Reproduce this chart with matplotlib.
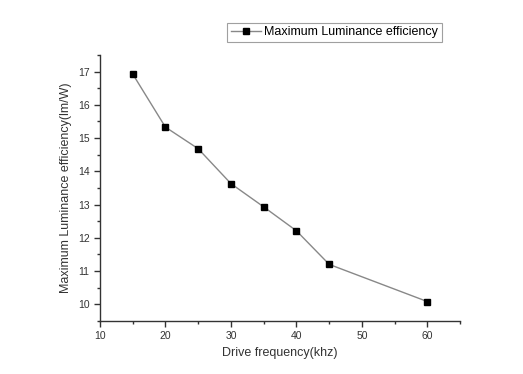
import matplotlib
matplotlib.use('Agg')
import matplotlib.pyplot as plt
from matplotlib.ticker import MultipleLocator

# data
freq = [15, 20, 25, 30, 35, 40, 45, 60]
efficiency = [16.93, 15.33, 14.68, 13.63, 12.93, 12.21, 11.20, 10.08]

plt.rcParams['font.family'] = ['Liberation Sans', 'DejaVu Sans']

fig = plt.figure(figsize=(5.23, 3.74), dpi=100)
ax = fig.add_axes([0.191, 0.142, 0.689, 0.711])
ax.plot(freq, efficiency, '-', color='#888888', lw=1,
        marker='s', ms=5, mfc='black', mec='black',
        label='Maximum Luminance efficiency')

ax.set_xlim(10, 65)
ax.set_ylim(9.5, 17.5)
ax.xaxis.set_major_locator(MultipleLocator(10))
ax.xaxis.set_minor_locator(MultipleLocator(5))
ax.yaxis.set_major_locator(MultipleLocator(1))
ax.yaxis.set_minor_locator(MultipleLocator(0.5))
ax.spines['top'].set_visible(False)
ax.spines['right'].set_visible(False)
for s in ['left', 'bottom']:
    ax.spines[s].set_color('#333333')
    ax.spines[s].set_linewidth(1)
ax.tick_params(which='major', direction='out', length=4, width=1, labelsize=7.5, colors='#333333')
ax.tick_params(which='minor', direction='out', length=2.5, width=1, colors='#333333')

ax.set_xlabel('Drive frequency(khz)', fontsize=9, color='#333333')
ax.set_ylabel('Maximum Luminance efficiency(lm/W)', fontsize=9, color='#333333')

leg = ax.legend(loc='center', bbox_to_anchor=(0.651, 1.085), fontsize=9,
                frameon=True, fancybox=False, handlelength=2.4,
                borderpad=0.3, handletextpad=0.3)
leg.get_frame().set_edgecolor('#888888')
leg.get_frame().set_linewidth(0.8)

fig.savefig('out.png', dpi=100)
